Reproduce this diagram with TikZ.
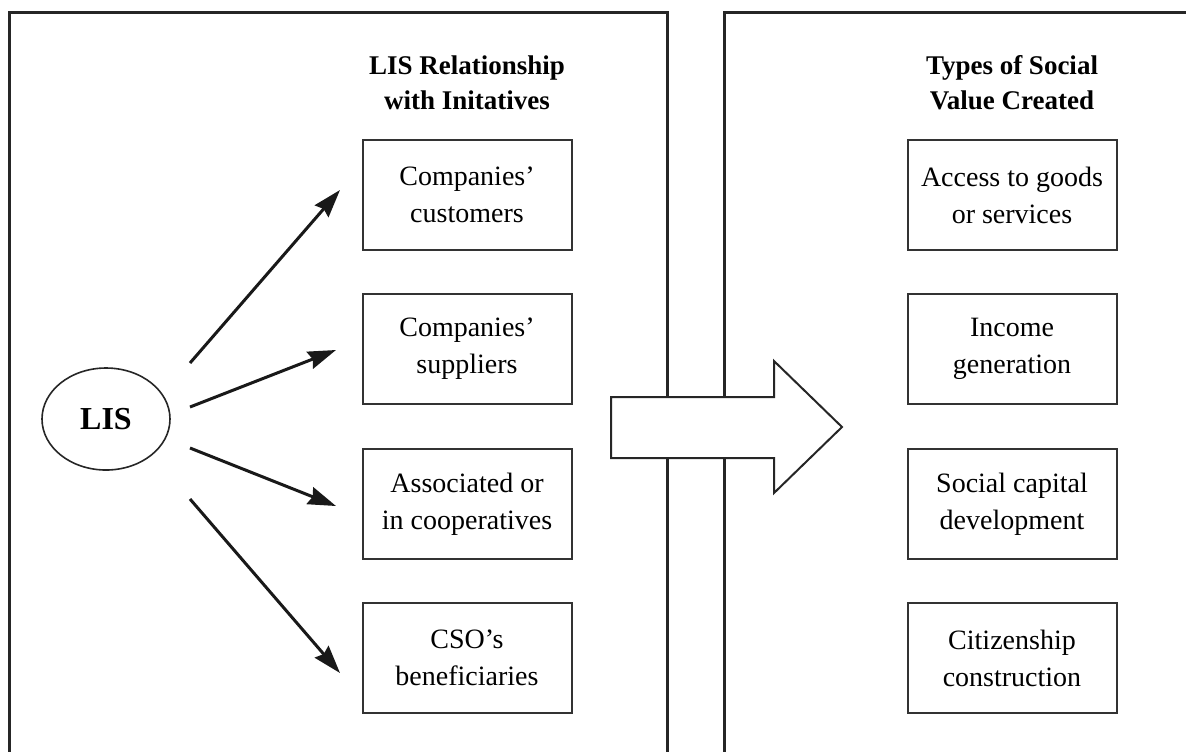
\documentclass[tikz,border=0pt]{standalone}
\usepackage{fontspec}
\setmainfont{Liberation Serif}
\usetikzlibrary{arrows.meta,shapes.geometric}

\begin{document}
\begin{tikzpicture}[x=0.5pt,y=0.5pt,yscale=-1,
  frame/.style={draw=black!85,line width=1.5pt},
  valbox/.style={draw=black!80,line width=1pt,minimum width=104.5pt,minimum height=55pt,align=center,font=\fontsize{14}{18.5}\selectfont},
  heading/.style={align=center,font=\bfseries\fontsize{13.5}{17.5}\selectfont},
  flow/.style={draw=black!90,line width=1.5pt,-{Stealth[length=14pt,width=9pt,inset=1.5pt]}}]
\useasboundingbox (0,0) rectangle (1186,751);
\clip (0,0) rectangle (1186,751);

%Frames (open at the bottom)
\draw[frame] (9,770) -- (9,12) -- (667,12) -- (667,770);
\draw[frame] (724,770) -- (724,12) -- (1200,12);

%Headings
\node[heading] (relhead) at (467,83) {LIS Relationship\\with Initatives};
\node[heading] (valhead) at (1012,83) {Types of Social\\Value Created};

%Left column
\node[valbox] (cust) at (467,195) {Companies'\\customers};
\node[valbox] (supp) at (467,349) {Companies'\\suppliers};
\node[valbox] (coop) at (467,504) {Associated or\\in cooperatives};
\node[valbox] (benef) at (467,658) {CSO's\\beneficiaries};

%Right column
\node[valbox] (access) at (1012,195) {Access to goods\\or services};
\node[valbox] (income) at (1012,349) {Income\\generation};
\node[valbox] (capital) at (1012,504) {Social capital\\development};
\node[valbox] (citizen) at (1012,658) {Citizenship\\construction};

%LIS hub
\node[draw=black!85,line width=0.8pt,ellipse,minimum width=64pt,minimum height=51pt,font=\bfseries\fontsize{16}{19}\selectfont] (lis) at (106,419) {LIS};

%Arrow ends
\coordinate (s1) at (190,363);
\coordinate (s2) at (190,407);
\coordinate (s3) at (190,448);
\coordinate (s4) at (190,499);
\coordinate (e1) at (340,190);
\coordinate (e2) at (336,350);
\coordinate (e3) at (336,506);
\coordinate (e4) at (340,673);
\draw[flow] (s1) -- (e1);
\draw[flow] (s2) -- (e2);
\draw[flow] (s3) -- (e3);
\draw[flow] (s4) -- (e4);

%Block arrow across the frames
\draw[draw=black!85,line width=1pt,fill=white] (611,397) -- (774,397) -- (774,361) -- (842,427) -- (774,493) -- (774,458) -- (611,458) -- cycle;
\end{tikzpicture}
\end{document}
